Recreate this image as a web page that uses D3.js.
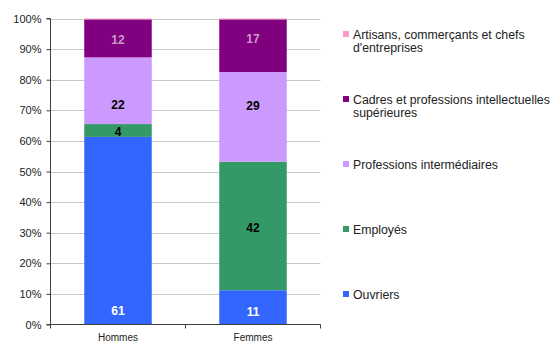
<!DOCTYPE html>
<html><head><meta charset="utf-8">
<script src="https://cdn.jsdelivr.net/npm/d3@7"></script>
<style>body{margin:0;background:#fff}svg{display:block}</style>
</head><body>
<svg id="c" width="552" height="343"></svg>
<script>
const categories = ["Hommes", "Femmes"];
const seriesNames = ["Ouvriers", "Employés", "Professions intermédiaires", "Cadres et professions intellectuelles supérieures", "Artisans, commerçants et chefs d'entreprises"];
const ouvriers = [61.3, 11.2];
const employes = [4.2, 42.0];
const profInter = [21.8, 29.3];
const cadres = [12.4, 17.2];
const artisans = [0.3, 0.3];
const labels = [["61", "11"], ["4", "42"], ["22", "29"], ["12", "17"], [null, null]];
// where each data label sits, in percent units on the value axis
const labelAt = [[4.5, 4.3], [63.0, 31.7], [71.9, 71.7], [93.2, 93.6], [null, null]];
const yTicks = [0, 10, 20, 30, 40, 50, 60, 70, 80, 90, 100];
const colors = ["#3366ff", "#339966", "#cc99ff", "#800080", "#ff99cc"];
const labelColors = ["#ffffff", "#000000", "#000000", "#cc99cc", "#000"];
const legendLines = [["Artisans, commerçants et chefs", "d'entreprises"], ["Cadres et professions intellectuelles", "supérieures"], ["Professions intermédiaires"], ["Employés"], ["Ouvriers"]];
const legendColors = ["#ff99cc", "#800080", "#cc99ff", "#339966", "#3366ff"];

(function () {
const values = [ouvriers, employes, profInter, cadres, artisans];
const rows = categories.map((c, i) => {
  const o = {cat: c};
  seriesNames.forEach((s, k) => o[s] = values[k][i]);
  return o;
});
const stacked = d3.stack().keys(seriesNames)(rows);

const svg = d3.select("#c");
const pL = 50.5, pR = 320.5, pT = 18.5, pB = 324.5;
const x = d3.scaleBand().domain(categories).range([pL, pR]).paddingInner(0.5).paddingOuter(0.25);
const y = d3.scaleLinear().domain([0, 100]).range([pB, pT]);

// grid
svg.append("g").selectAll("line").data(yTicks.slice(1)).join("line")
  .attr("x1", pL).attr("x2", pR).attr("y1", d => Math.round(y(d)) + 0.5).attr("y2", d => Math.round(y(d)) + 0.5)
  .attr("stroke", "#c8c8c8").attr("stroke-width", 1);

// bars
stacked.forEach((layer, k) => {
  svg.append("g").selectAll("rect").data(layer).join("rect")
    .attr("x", d => x(d.data.cat))
    .attr("width", x.bandwidth())
    .attr("y", d => y(d[1]))
    .attr("height", d => y(d[0]) - y(d[1]))
    .attr("fill", colors[k]);
});
// labels
stacked.forEach((layer, k) => {
  svg.append("g").selectAll("text").data(layer.map((d, i) => ({d, t: labels[k][i], at: labelAt[k][i]})).filter(e => e.t)).join("text")
    .attr("x", e => x(e.d.data.cat) + x.bandwidth() / 2)
    .attr("y", e => y(e.at) + 4.5)
    .attr("text-anchor", "middle")
    .attr("font-family", "Liberation Sans, Arial, sans-serif")
    .attr("font-size", 12).attr("font-weight", "bold")
    .attr("fill", labelColors[k])
    .text(e => e.t);
});

// y axis
const yAxis = d3.axisLeft(y).tickValues(yTicks).tickFormat(d => d + "%").tickSize(4).tickPadding(5);
const gy = svg.append("g").attr("transform", `translate(${pL},0)`).call(yAxis);
gy.select(".domain").attr("stroke", "#404040").attr("d", `M-4,${pT}H0V${pB}H-4`);
gy.selectAll(".tick line").attr("stroke", "#404040");
gy.selectAll(".tick text").attr("font-family", "Liberation Sans, Arial, sans-serif").attr("font-size", 11).attr("fill", "#222");

// x axis
const gx = svg.append("g").attr("transform", `translate(0,${pB})`);
gx.append("line").attr("x1", pL).attr("x2", pR).attr("stroke", "#404040");
const bounds = [pL, (x("Hommes") + x.bandwidth() + x("Femmes")) / 2, pR];
gx.selectAll("line.t").data(bounds).join("line").attr("class", "t")
  .attr("x1", d => d).attr("x2", d => d).attr("y1", 0).attr("y2", 4).attr("stroke", "#404040");
gx.selectAll("text").data(categories).join("text")
  .attr("x", d => x(d) + x.bandwidth() / 2).attr("y", 16)
  .attr("text-anchor", "middle")
  .attr("font-family", "Liberation Sans, Arial, sans-serif").attr("font-size", 10).attr("fill", "#222")
  .text(d => d);

// legend
const legendY = [35, 100, 165, 230, 295];
const lg = svg.append("g");
legendLines.forEach((lines, i) => {
  lg.append("rect").attr("x", 343).attr("y", legendY[i] - 4).attr("width", 6).attr("height", 6).attr("fill", legendColors[i]);
  lines.forEach((t, j) => {
    lg.append("text").attr("x", 353).attr("y", legendY[i] + 4 + j * 13)
      .attr("font-family", "Liberation Sans, Arial, sans-serif").attr("font-size", 12.3).attr("fill", "#222")
      .text(t);
  });
});
})();
</script>
</body></html>
